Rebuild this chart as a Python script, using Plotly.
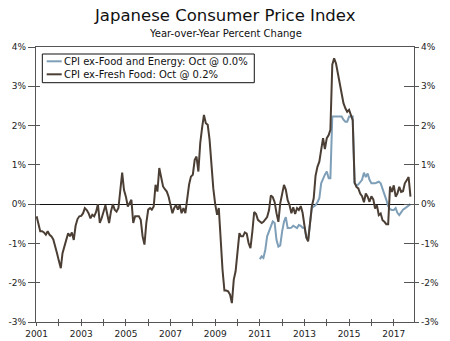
import pandas as pd
import plotly.graph_objects as go

# CPI ex-Fresh Food, year-over-year % change, monthly Jan 2001 - Oct 2017
ex_fresh_2001 = [-0.31, -0.55, -0.69, -0.69, -0.72, -0.78, -0.69, -0.78, -0.82, -0.90, -1.05, -1.25]
ex_fresh_2002 = [-1.45, -1.63, -1.25, -1.10, -0.91, -0.74, -0.82, -0.72, -0.91, -0.55, -0.38, -0.31]
ex_fresh_2003 = [-0.30, -0.23, -0.10, -0.15, -0.23, -0.36, -0.27, -0.31, -0.20, 0.00, -0.48, -0.36]
ex_fresh_2004 = [-0.20, -0.03, -0.25, -0.48, -0.19, 0.00, -0.14, -0.19, -0.10, 0.36, 0.80, 0.36]
ex_fresh_2005 = [0.19, -0.06, 0.03, 0.11, -0.48, -0.31, -0.31, -0.31, -0.40, -0.82, -1.03, -0.48]
ex_fresh_2006 = [-0.14, -0.10, -0.14, -0.06, 0.49, 0.32, 0.92, 0.66, 0.45, 0.38, 0.32, 0.19]
ex_fresh_2007 = [-0.06, -0.23, -0.10, -0.02, -0.14, -0.02, -0.23, -0.10, -0.23, 0.15, 0.50, 0.70]
ex_fresh_2008 = [0.75, 1.13, 1.21, 0.83, 1.55, 1.95, 2.27, 2.06, 2.02, 1.64, 1.00, 0.40]
ex_fresh_2009 = [0.00, -0.27, -0.10, -0.99, -1.67, -2.20, -2.20, -2.22, -2.30, -2.52, -1.92, -1.71]
ex_fresh_2010 = [-1.25, -0.74, -0.82, -0.82, -0.72, -0.75, -0.99, -1.12, -0.70, -0.20, -0.25, -0.40]
ex_fresh_2011 = [-0.44, -0.48, -0.45, -0.40, -0.33, -0.15, 0.22, 0.18, 0.05, -0.23, -0.45, 0.02]
ex_fresh_2012 = [0.30, 0.49, 0.37, 0.10, -0.02, -0.23, -0.08, -0.25, -0.10, -0.15, -0.05, -0.22]
ex_fresh_2013 = [-0.55, -0.85, -0.95, -0.50, -0.06, 0.15, 0.72, 0.95, 1.08, 1.38, 1.68, 1.40]
ex_fresh_2014 = [1.68, 1.76, 1.89, 3.55, 3.71, 3.58, 3.35, 3.10, 2.85, 2.57, 2.44, 2.35]
ex_fresh_2015 = [2.40, 2.27, 2.14, 0.55, 0.44, 0.40, 0.27, 0.20, 0.05, 0.27, 0.19, 0.06]
ex_fresh_2016 = [0.20, 0.12, -0.11, -0.03, -0.28, -0.24, -0.41, -0.45, -0.51, -0.51, 0.45, 0.31]
ex_fresh_2017 = [0.48, 0.19, 0.27, 0.44, 0.31, 0.33, 0.53, 0.61, 0.69, 0.19]

# CPI ex-Food and Energy, year-over-year % change, monthly Jan 2011 - Oct 2017
ex_food_energy_2011 = [-1.40, -1.33, -1.37, -1.16, -0.82, -0.70, -0.58, -0.44, -0.48, -0.91, -1.08, -1.05]
ex_food_energy_2012 = [-0.70, -0.45, -0.33, -0.61, -0.61, -0.60, -0.55, -0.57, -0.61, -0.53, -0.55, -0.60]
ex_food_energy_2013 = [-0.60, -0.85, -0.92, -0.50, -0.10, -0.06, -0.03, 0.05, 0.15, 0.53, 0.65, 0.75]
ex_food_energy_2014 = [0.83, 0.66, 0.66, 2.23, 2.23, 2.23, 2.23, 2.23, 2.23, 2.15, 2.10, 2.10]
ex_food_energy_2015 = [2.23, 2.23, 2.23, 0.53, 0.48, 0.50, 0.55, 0.62, 0.80, 0.69, 0.78, 0.62]
ex_food_energy_2016 = [0.53, 0.53, 0.53, 0.55, 0.57, 0.53, 0.40, 0.28, 0.11, -0.05, -0.13, -0.15]
ex_food_energy_2017 = [-0.15, -0.10, -0.22, -0.28, -0.20, -0.14, -0.11, -0.08, -0.03, 0.00]

y_ticks = [-3, -2, -1, 0, 1, 2, 3, 4]
y_tick_labels = ["-3%", "-2%", "-1%", "0%", "1%", "2%", "3%", "4%"]
x_tick_years = list(range(2001, 2018))
x_tick_labels = [str(y) if (y - 2001) % 2 == 0 else "" for y in x_tick_years]

ex_fresh = (ex_fresh_2001 + ex_fresh_2002 + ex_fresh_2003 + ex_fresh_2004 + ex_fresh_2005
            + ex_fresh_2006 + ex_fresh_2007 + ex_fresh_2008 + ex_fresh_2009 + ex_fresh_2010
            + ex_fresh_2011 + ex_fresh_2012 + ex_fresh_2013 + ex_fresh_2014 + ex_fresh_2015
            + ex_fresh_2016 + ex_fresh_2017)
ex_food_energy = (ex_food_energy_2011 + ex_food_energy_2012 + ex_food_energy_2013
                  + ex_food_energy_2014 + ex_food_energy_2015 + ex_food_energy_2016
                  + ex_food_energy_2017)

fresh_dates = pd.date_range("2001-01-01", periods=len(ex_fresh), freq="MS")
core_dates = pd.date_range("2011-01-01", periods=len(ex_food_energy), freq="MS")

BLUE = "#7e9fb7"
BROWN = "#4b3f35"
AXIS = "#555555"
TEXT = "#222222"
FONT = "DejaVu Sans"

label_core = f"CPI ex-Food and Energy: Oct @ {ex_food_energy[-1]:.1f}%"
label_fresh = f"CPI ex-Fresh Food: Oct @ {ex_fresh[-1]:.1f}%"

fig = go.Figure()
fig.add_trace(go.Scatter(x=core_dates, y=ex_food_energy, mode="lines",
                         line=dict(color=BLUE, width=2), name=label_core))
fig.add_trace(go.Scatter(x=fresh_dates, y=ex_fresh, mode="lines",
                         line=dict(color=BROWN, width=2), name=label_fresh))

# Empty traces so the overlay axes (right-hand scale, crossing tick marks) are drawn
for ya in ["y2", "y3", "y4"]:
    fig.add_trace(go.Scatter(x=[], y=[], xaxis="x2", yaxis=ya, mode="lines",
                             showlegend=False, hoverinfo="skip"))

x_range = ["2000-12-22", "2017-11-28"]
tickvals_x = [f"{y}-01-01" for y in x_tick_years]
tick_font = dict(family=FONT, size=9, color=TEXT)

fig.update_layout(
    width=450, height=341,
    margin=dict(l=36, r=36, t=47, b=19, pad=0),
    paper_bgcolor="white", plot_bgcolor="white",
    showlegend=False,
    font=dict(family=FONT, size=9, color=TEXT),
    xaxis=dict(
        type="date", range=x_range, tickmode="array", tickvals=tickvals_x,
        ticktext=x_tick_labels, ticks="outside", ticklen=3, tickwidth=1,
        tickcolor=AXIS, showline=True, linecolor=AXIS, linewidth=1.3,
        mirror=True, showgrid=False, zeroline=False, automargin=False,
        tickfont=tick_font,
    ),
    xaxis2=dict(
        type="date", range=x_range, overlaying="x", anchor="y", side="bottom",
        tickmode="array", tickvals=tickvals_x, ticks="inside", ticklen=3,
        tickwidth=1, tickcolor=AXIS, showticklabels=False, showline=False,
        showgrid=False, zeroline=False, automargin=False,
    ),
    yaxis=dict(
        range=[-3, 4], tickmode="array", tickvals=y_ticks, ticktext=y_tick_labels,
        ticks="outside", ticklen=7, tickwidth=1, tickcolor=AXIS,
        showline=True, linecolor=AXIS, linewidth=1.3, showgrid=False,
        zeroline=True, zerolinecolor="#111111", zerolinewidth=1,
        automargin=False, tickfont=tick_font,
    ),
    yaxis2=dict(
        range=[-3, 4], overlaying="y", side="right", anchor="x", tickmode="array",
        tickvals=y_ticks, ticktext=y_tick_labels, ticks="outside", ticklen=4,
        tickwidth=1, tickcolor=AXIS, showline=True, linecolor=AXIS,
        linewidth=1.3, showgrid=False, zeroline=False, automargin=False,
        tickfont=tick_font,
    ),
    yaxis3=dict(
        range=[-3, 4], overlaying="y", side="left", anchor="x", tickmode="array",
        tickvals=y_ticks, ticks="inside", ticklen=4, tickwidth=1,
        tickcolor=AXIS, showticklabels=False, showline=False,
        showgrid=False, zeroline=False, automargin=False,
    ),
    yaxis4=dict(
        range=[-3, 4], overlaying="y", side="right", anchor="x", tickmode="array",
        tickvals=y_ticks, ticks="inside", ticklen=10, tickwidth=1,
        tickcolor=AXIS, showticklabels=False, showline=False,
        showgrid=False, zeroline=False, automargin=False,
    ),
)

# Title and subtitle
fig.add_annotation(text="Japanese Consumer Price Index", xref="paper", yref="paper",
                   x=0.5, y=1.1145, xanchor="center", yanchor="middle", showarrow=False,
                   font=dict(family=FONT, size=16.5, color="#111111"))
fig.add_annotation(text="Year-over-Year Percent Change", xref="paper", yref="paper",
                   x=0.5, y=1.0509, xanchor="center", yanchor="middle", showarrow=False,
                   font=dict(family=FONT, size=10, color="#111111"))

# Boxed legend in the upper left of the plot
fig.add_shape(type="rect", xref="paper", yref="paper", x0=0.0167, x1=0.5775,
              y0=0.8702, y1=0.9745, line=dict(color="#111111", width=1),
              fillcolor="white", layer="above")
legend_rows = [(label_core, BLUE, 0.948), (label_fresh, BROWN, 0.9007)]
for text, color, yy in legend_rows:
    fig.add_shape(type="line", xref="paper", yref="paper", x0=0.0283, x1=0.068,
                  y0=yy, y1=yy, line=dict(color=color, width=2), layer="above")
    fig.add_annotation(text=text, xref="paper", yref="paper", x=0.0688, y=yy,
                       xanchor="left", yanchor="middle", showarrow=False,
                       font=dict(family=FONT, size=10, color="#111111"))

fig.write_html("out.html")
